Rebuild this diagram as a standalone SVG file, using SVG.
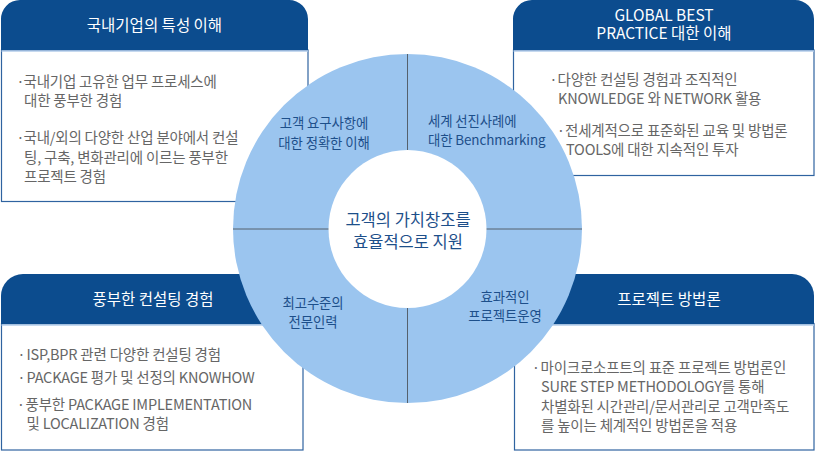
<svg xmlns="http://www.w3.org/2000/svg" width="815" height="451" viewBox="0 0 815 451">
  <defs>
    <style>
      text { font-family: "Noto Sans CJK KR", "Noto Sans", sans-serif; }
      .hdr { fill: #0c4c8e; }
      .body { fill: #ffffff; stroke: #2f63a0; stroke-width: 1.2; }
      .sep { stroke: #b3cdea; stroke-width: 1.5; }
      .title { fill: #ffffff; font-size: 15.5px; text-anchor: middle; }
      .txt { fill: #666666; font-size: 14.5px; letter-spacing: -0.2px; }
      .dot { fill: #666666; font-size: 14px; text-anchor: middle; }
      .lbl { fill: #1d4f8a; font-size: 13.4px; letter-spacing: -0.1px; }
      .ctr { fill: #1d4f8a; font-size: 16.5px; text-anchor: middle; }
      .div { stroke: #55616d; stroke-width: 1; }
    </style>
  </defs>

  <g id="box-domestic">
    <rect class="body" x="1.5" y="50" width="306.5" height="151.5"/>
    <path class="hdr" d="M1,50.5 V20 A19,19 0 0 1 20,0 H289 A19,19 0 0 1 308,19 V50.5 Z"/>
    <line class="sep" x1="1.5" y1="51" x2="308" y2="51"/>
    <text class="title" x="154.5" y="30.5">국내기업의 특성 이해</text>
    <text class="dot" x="20.5" y="87">·</text>
    <text class="txt" x="23.5" y="87">국내기업 고유한 업무 프로세스에</text>
    <text class="txt" x="24" y="106">대한 풍부한 경험</text>
    <text class="dot" x="20.5" y="143">·</text>
    <text class="txt" x="23.5" y="143">국내/외의 다양한 산업 분야에서 컨설</text>
    <text class="txt" x="24" y="162.5">팅, 구축, 변화관리에 이르는 풍부한</text>
    <text class="txt" x="24" y="181.5">프로젝트 경험</text>
  </g>

  <g id="box-global">
    <rect class="body" x="513.5" y="50" width="300.5" height="125.5"/>
    <path class="hdr" d="M513,50.5 V20 A19,19 0 0 1 532,0 H795 A19,19 0 0 1 814,19 V50.5 Z"/>
    <line class="sep" x1="513.5" y1="51" x2="814" y2="51"/>
    <text class="title" x="664" y="20.5">GLOBAL BEST</text>
    <text class="title" x="664" y="38.5">PRACTICE 대한 이해</text>
    <text class="dot" x="553.5" y="84.5">·</text>
    <text class="txt" x="557.5" y="84.5">다양한 컨설팅 경험과 조직적인</text>
    <text class="txt" x="558" y="104">KNOWLEDGE 와 NETWORK 활용</text>
    <text class="dot" x="561" y="135.5">·</text>
    <text class="txt" x="565" y="135.5">전세계적으로 표준화된 교육 및 방법론</text>
    <text class="txt" x="566" y="154.5">TOOLS에 대한 지속적인 투자</text>
  </g>

  <g id="box-consulting">
    <rect class="body" x="1.5" y="323.5" width="301.5" height="126.5"/>
    <path class="hdr" d="M1,324.5 V296 A22,22 0 0 1 23,274 H303 V324.5 Z"/>
    <line class="sep" x1="1.5" y1="325" x2="303" y2="325"/>
    <text class="title" x="153" y="304.5">풍부한 컨설팅 경험</text>
    <text class="dot" x="21.5" y="359.5">·</text>
    <text class="txt" x="26.5" y="359.5">ISP,BPR 관련 다양한 컨설팅 경험</text>
    <text class="dot" x="21.5" y="383">·</text>
    <text class="txt" x="26.5" y="383">PACKAGE 평가 및 선정의 KNOWHOW</text>
    <text class="dot" x="21" y="409.5">·</text>
    <text class="txt" x="25.5" y="409.5">풍부한 PACKAGE IMPLEMENTATION</text>
    <text class="txt" x="26.5" y="428.5">및 LOCALIZATION 경험</text>
  </g>

  <g id="box-method">
    <rect class="body" x="514.5" y="323.5" width="299.5" height="126.5"/>
    <path class="hdr" d="M514,324.5 V274 H792 A22,22 0 0 1 814,296 V324.5 Z"/>
    <line class="sep" x1="514.5" y1="325" x2="814" y2="325"/>
    <text class="title" x="669" y="304.5">프로젝트 방법론</text>
    <text class="dot" x="536" y="372.5">·</text>
    <text class="txt" x="540.5" y="372.5">마이크로소프트의 표준 프로젝트 방법론인</text>
    <text class="txt" x="541" y="392">SURE STEP METHODOLOGY를 통해</text>
    <text class="txt" x="541" y="411.5">차별화된 시간관리/문서관리로 고객만족도</text>
    <text class="txt" x="541" y="431">를 높이는 체계적인 방법론을 적용</text>
  </g>

  <g id="ring">
    <circle cx="407.5" cy="228.5" r="174.5" fill="#9bc5ef"/>
  </g>

  <g id="connectors">
    <line class="div" x1="407.5" y1="54" x2="407.5" y2="150"/>
    <line class="div" x1="407.5" y1="307" x2="407.5" y2="403"/>
    <line class="div" x1="233" y1="229" x2="329" y2="229"/>
    <line class="div" x1="486" y1="229" x2="582" y2="229"/>
  </g>

  <g id="center">
    <circle cx="407.5" cy="229" r="79" fill="#ffffff"/>
    <text class="ctr" x="408" y="226">고객의 가치창조를</text>
    <text class="ctr" x="408" y="248">효율적으로 지원</text>
  </g>

  <g id="q-customer">
    <text class="lbl" x="324" y="127.5" text-anchor="middle">고객 요구사항에</text>
    <text class="lbl" x="324" y="147.5" text-anchor="middle">대한 정확한 이해</text>
  </g>
  <g id="q-benchmark">
    <text class="lbl" x="428" y="125.5">세계 선진사례에</text>
    <text class="lbl" x="428" y="145">대한 Benchmarking</text>
  </g>
  <g id="q-people">
    <text class="lbl" x="313" y="307.5" text-anchor="middle">최고수준의</text>
    <text class="lbl" x="313" y="327" text-anchor="middle">전문인력</text>
  </g>
  <g id="q-project">
    <text class="lbl" x="505" y="301.5" text-anchor="middle">효과적인</text>
    <text class="lbl" x="505" y="320.5" text-anchor="middle">프로젝트운영</text>
  </g>
</svg>
